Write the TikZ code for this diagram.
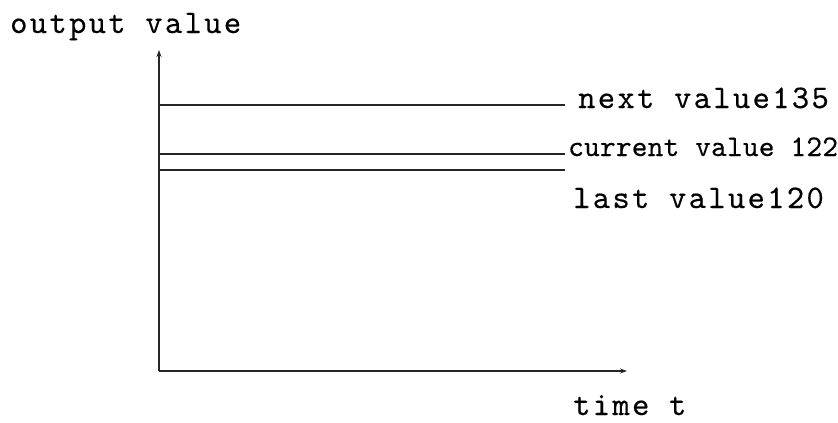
\documentclass[tikz,border=0pt]{standalone}
\usepackage{fontspec}
\newfontfamily\bigmono[LetterSpace=7,FakeBold=0.25]{lmmono10-regular.otf}
\newfontfamily\smallmono[LetterSpace=0.5,FakeBold=0.25]{lmmono10-regular.otf}
\usetikzlibrary{arrows.meta}
\begin{document}
\begin{tikzpicture}[x=1pt,y=-1pt,
  axis/.style={line width=1.6pt,draw=black!85},
  level/.style={line width=1.4pt,draw=black!85},
  biglabel/.style={inner sep=0pt,anchor=base west,font=\bigmono\fontsize{33}{35}\selectfont},
  smalllabel/.style={inner sep=0pt,anchor=base west,font=\smallmono\fontsize{30}{32}\selectfont}]
\useasboundingbox (0,0) rectangle (838,423);
\coordinate (O) at (159,371);
\coordinate (Ytop) at (159,50);
\coordinate (Xend) at (627,371);
\draw[axis,-{Stealth[length=7pt,width=5pt]}] (O) -- (Ytop);
\draw[axis,-{Stealth[length=7pt,width=5pt]}] (O) -- (Xend);
\node[biglabel] (ylab) at (10,33) {output value};
\node[biglabel] (xlab) at (573,415) {time t};
\coordinate (n0) at (159,105);
\coordinate (n1) at (565,105);
\coordinate (c0) at (159,154);
\coordinate (c1) at (565,154);
\coordinate (l0) at (159,170);
\coordinate (l1) at (565,170);
\draw[level] (n0) -- (n1);
\draw[level] (c0) -- (c1);
\draw[level] (l0) -- (l1);
\node[biglabel] (next) at (578,108) {next value135};
\node[smalllabel] (cur) at (568,156) {current value 122};
\node[biglabel] (last) at (573,208) {last value120};
\end{tikzpicture}
\end{document}
